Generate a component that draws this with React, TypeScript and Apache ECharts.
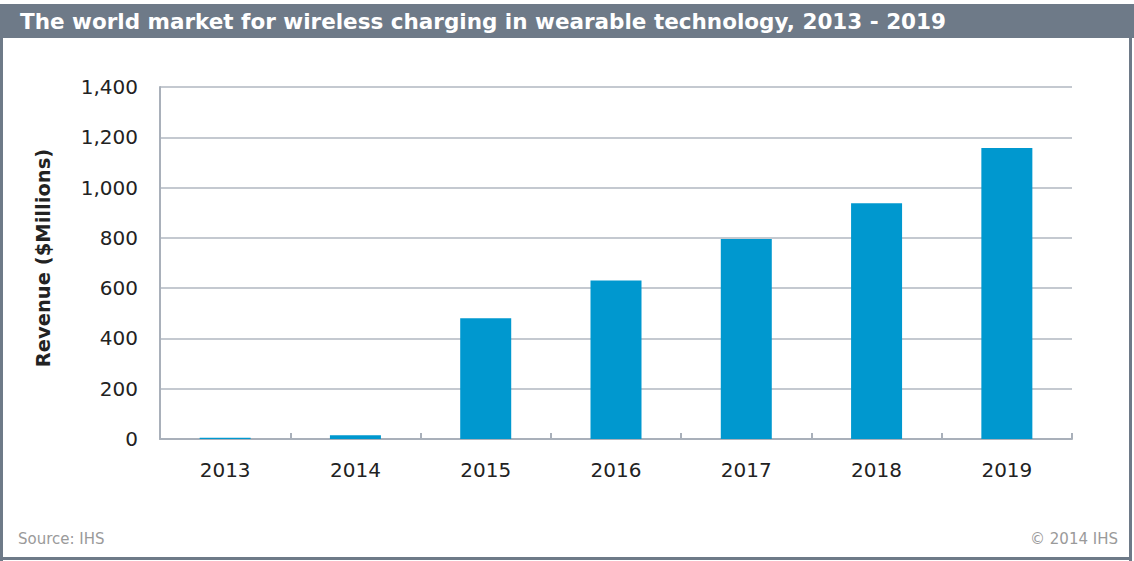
import React, { useEffect, useRef } from "react";
import * as echarts from "echarts";

const years = ["2013", "2014", "2015", "2016", "2017", "2018", "2019"];
const revenue = [5, 15, 480, 630, 795, 938, 1157];
const titleText = "The world market for wireless charging in wearable technology, 2013 - 2019";
const yAxisTitle = "Revenue ($Millions)";
const sourceText = "Source: IHS";
const copyrightText = "© 2014 IHS";

const W = 1134;
const H = 561;
const frame = "#6e7a88";
const font = "'DejaVu Sans', 'Liberation Sans', Arial, sans-serif";

export default function App() {
  const ref = useRef<HTMLDivElement>(null);

  useEffect(() => {
    document.body.style.margin = "0";
    const chart = echarts.init(ref.current!, null, { renderer: "svg" });
    chart.setOption({
      animation: false,
      backgroundColor: "#ffffff",
      grid: { left: 160, right: 62, top: 87, bottom: 122, containLabel: false },
      xAxis: {
        type: "category",
        data: years,
        axisLine: { show: true, lineStyle: { color: "#a9b0ba", width: 2 } },
        axisTick: { show: true, inside: true, length: 6, lineStyle: { color: "#a9b0ba", width: 2 } },
        axisLabel: { color: "#222222", fontSize: 20, fontFamily: font, margin: 21 },
        splitLine: { show: false },
      },
      yAxis: {
        type: "value",
        min: 0,
        max: 1400,
        interval: 200,
        name: yAxisTitle,
        nameLocation: "middle",
        nameGap: 107,
        nameRotate: 90,
        nameTextStyle: {
          color: "#222222",
          fontSize: 19.5,
          fontWeight: "bold",
          fontFamily: font,
          padding: [0, 0, 0, 10],
        },
        axisLine: { show: true, lineStyle: { color: "#a9b0ba", width: 2 } },
        axisTick: { show: false },
        axisLabel: {
          color: "#222222",
          fontSize: 20,
          fontFamily: font,
          margin: 22,
          formatter: (v: number) => v.toLocaleString("en-US"),
        },
        splitLine: { show: true, lineStyle: { color: "#c4c9d0", width: 2 } },
      },
      series: [
        {
          type: "bar",
          data: revenue,
          barWidth: 51,
          itemStyle: { color: "#0098cf" },
        },
      ],
      graphic: [
        { type: "rect", shape: { x: 0, y: 4, width: W, height: 34 }, style: { fill: frame }, z: 10 },
        { type: "rect", shape: { x: 0, y: 4, width: 3, height: H - 4 }, style: { fill: frame }, z: 10 },
        { type: "rect", shape: { x: 1129, y: 4, width: 3, height: H - 4 }, style: { fill: frame }, z: 10 },
        { type: "rect", shape: { x: 0, y: 557, width: 1132, height: 3 }, style: { fill: frame }, z: 10 },
        {
          type: "text",
          x: 20,
          y: 21,
          z: 11,
          style: {
            text: titleText,
            fill: "#ffffff",
            fontSize: 21.5,
            fontWeight: "bold",
            fontFamily: font,
            verticalAlign: "middle",
          },
        },
        {
          type: "text",
          x: 18,
          y: 539,
          z: 11,
          style: { text: sourceText, fill: "#9a9a9a", fontSize: 15, fontFamily: font, verticalAlign: "middle" },
        },
        {
          type: "text",
          x: 1118,
          y: 539,
          z: 11,
          style: {
            text: copyrightText,
            fill: "#9a9a9a",
            fontSize: 15,
            fontFamily: font,
            align: "right",
            verticalAlign: "middle",
          },
        },
      ],
    });
    return () => chart.dispose();
  }, []);

  return <div ref={ref} style={{ position: "absolute", left: 0, top: 0, width: W, height: H }} />;
}
